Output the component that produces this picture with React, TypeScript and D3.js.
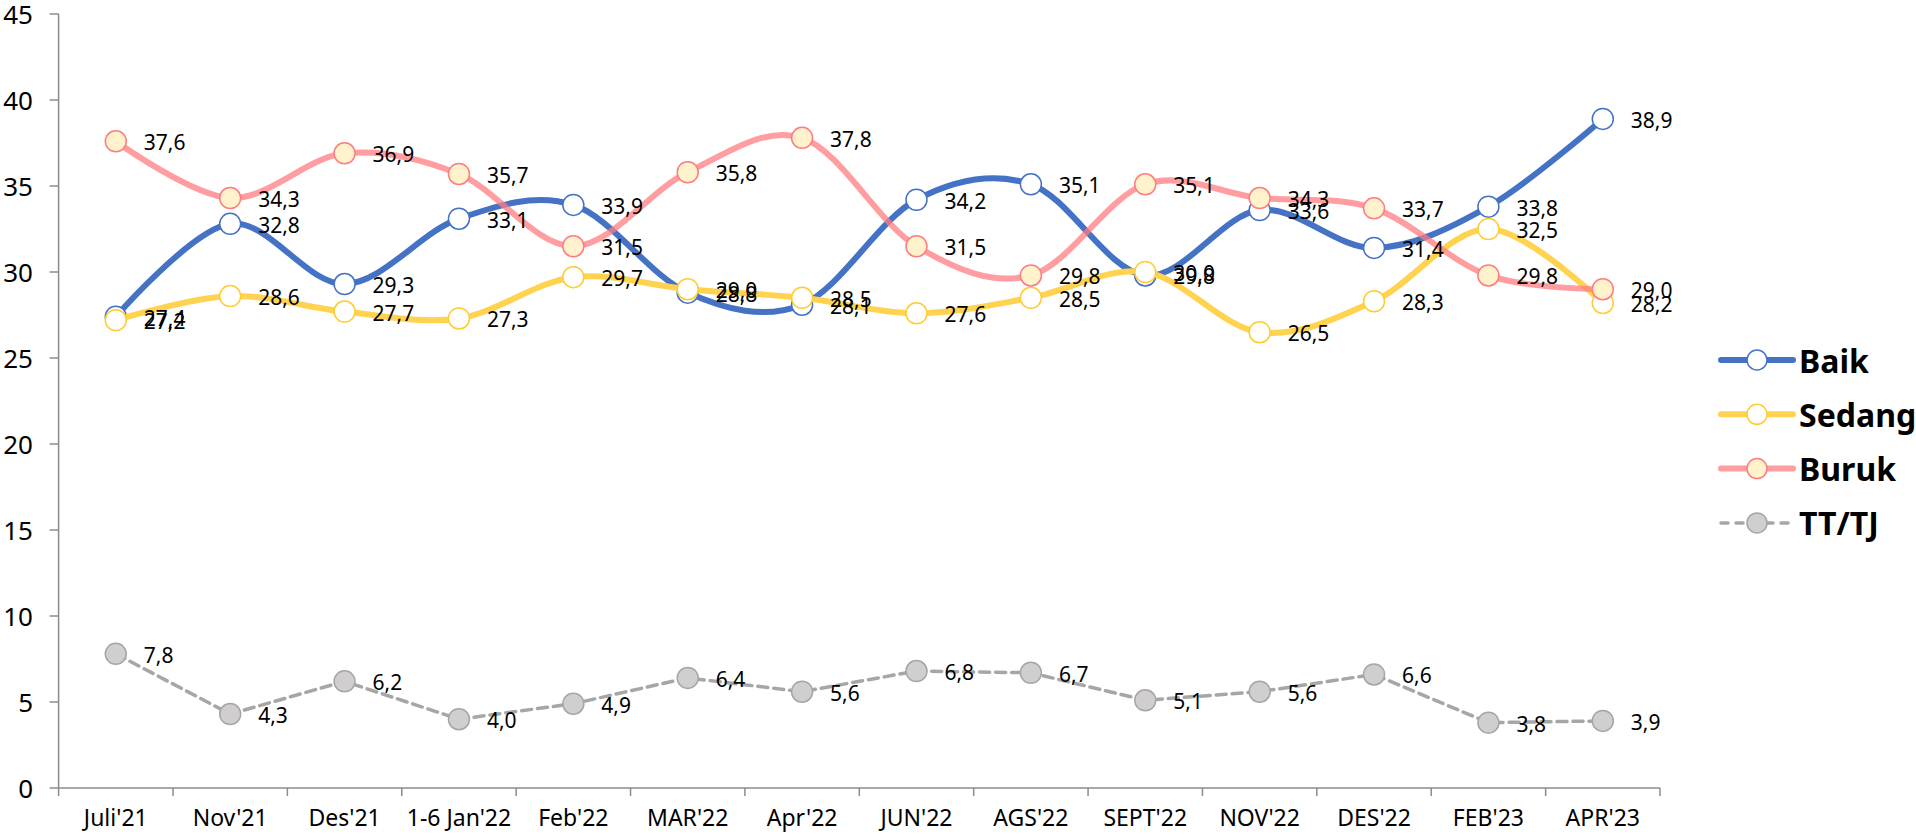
import React from 'react';
import * as d3 from 'd3';

const categories = [
  "Juli'21", "Nov'21", "Des'21", "1-6 Jan'22", "Feb'22", "MAR'22", "Apr'22",
  "JUN'22", "AGS'22", "SEPT'22", "NOV'22", "DES'22", "FEB'23", "APR'23",
];

const baik = [27.4, 32.8, 29.3, 33.1, 33.9, 28.8, 28.1, 34.2, 35.1, 29.8, 33.6, 31.4, 33.8, 38.9];
const sedang = [27.2, 28.6, 27.7, 27.3, 29.7, 29.0, 28.5, 27.6, 28.5, 30.0, 26.5, 28.3, 32.5, 28.2];
const buruk = [37.6, 34.3, 36.9, 35.7, 31.5, 35.8, 37.8, 31.5, 29.8, 35.1, 34.3, 33.7, 29.8, 29.0];
const tttj = [7.8, 4.3, 6.2, 4.0, 4.9, 6.4, 5.6, 6.8, 6.7, 5.1, 5.6, 6.6, 3.8, 3.9];

const yTicks = [0, 5, 10, 15, 20, 25, 30, 35, 40, 45];

const seriesList = [
  { name: 'Baik', values: baik, line: '#4472C4', lineOpacity: 1, fill: '#FFFFFF', stroke: '#4472C4', smooth: true, dash: null },
  { name: 'Sedang', values: sedang, line: '#FFD34F', lineOpacity: 1, fill: '#FFFFFF', stroke: '#FFCC33', smooth: true, dash: null },
  { name: 'Buruk', values: buruk, line: '#FF7C80', lineOpacity: 0.75, fill: '#FFF2CC', stroke: '#FF7C80', smooth: true, dash: null },
  { name: 'TT/TJ', values: tttj, line: '#A6A6A6', lineOpacity: 1, fill: '#D0CECE', stroke: '#A6A6A6', smooth: false, dash: '10,6' },
];

const W = 1916;
const H = 836;
const left = 58.6;
const right = 1660;
const top = 14;
const bottom = 788;
const FONT = "'Noto Sans', 'Open Sans', sans-serif";

export default function App() {
  const x = d3.scaleBand<string>().domain(categories).range([left, right]);
  const y = d3.scaleLinear().domain([0, 45]).range([bottom, top]);
  const cx = (i: number) => (x(categories[i]) as number) + x.bandwidth() / 2;

  const smoothLine = d3.line<number>().x((_, i) => cx(i)).y(d => y(d)).curve(d3.curveCardinal.tension(0));
  const straightLine = d3.line<number>().x((_, i) => cx(i)).y(d => y(d));

  const boundaries = d3.range(categories.length + 1).map(i => left + i * x.bandwidth());

  return (
    <svg width={W} height={H} style={{ position: 'absolute', left: 0, top: 0, background: '#fff' }} fontFamily={FONT}>
      {/* y axis */}
      <line x1={left} x2={left} y1={top} y2={bottom} stroke="#8C8C8C" strokeWidth={1.5} />
      {yTicks.map(t => (
        <g key={t}>
          <line x1={left - 9} x2={left} y1={y(t)} y2={y(t)} stroke="#8C8C8C" strokeWidth={1.5} />
          <text x={33} y={y(t)} textAnchor="end" dominantBaseline="central" fontSize={26} fill="#000">{t}</text>
        </g>
      ))}
      {/* x axis */}
      <line x1={left} x2={right} y1={bottom} y2={bottom} stroke="#8C8C8C" strokeWidth={1.5} />
      {boundaries.map((b, i) => (
        <line key={i} x1={b} x2={b} y1={bottom} y2={bottom + 8} stroke="#8C8C8C" strokeWidth={1.5} />
      ))}
      {categories.map((c, i) => (
        <text key={c} x={cx(i)} y={817} textAnchor="middle" dominantBaseline="central" fontSize={23} fill="#000">{c}</text>
      ))}

      {/* series */}
      {seriesList.map(s => (
        <g key={s.name}>
          <path
            d={(s.smooth ? smoothLine : straightLine)(s.values) as string}
            fill="none"
            stroke={s.line}
            strokeOpacity={s.lineOpacity}
            strokeWidth={s.dash ? 3.5 : 6}
            strokeDasharray={s.dash ?? undefined}
            strokeLinecap="round"
          />
          {s.values.map((v, i) => (
            <circle key={i} cx={cx(i)} cy={y(v)} r={10.5} fill={s.fill} stroke={s.stroke} strokeWidth={1.5} />
          ))}
        </g>
      ))}

      {/* data labels */}
      {seriesList.map(s => (
        <g key={s.name + '-lbl'}>
          {s.values.map((v, i) => (
            <text key={i} x={cx(i) + 28} y={y(v) + 1} dominantBaseline="central" fontSize={21} fill="#000">
              {v.toFixed(1).replace('.', ',')}
            </text>
          ))}
        </g>
      ))}

      {/* legend */}
      {seriesList.map((s, i) => {
        const ly = 360 + i * 54.3;
        return (
          <g key={s.name + '-leg'}>
            <line x1={1721} x2={1793} y1={ly} y2={ly} stroke={s.line} strokeOpacity={s.lineOpacity}
              strokeWidth={s.dash ? 3.5 : 6} strokeDasharray={s.dash ? '7,8' : undefined} strokeLinecap="round" />
            <circle cx={1757} cy={ly} r={10} fill={s.fill} stroke={s.stroke} strokeWidth={1.5} />
            <text x={1799} y={ly} dominantBaseline="central" fontSize={32} fontWeight="bold" fill="#000">{s.name}</text>
          </g>
        );
      })}
    </svg>
  );
}
